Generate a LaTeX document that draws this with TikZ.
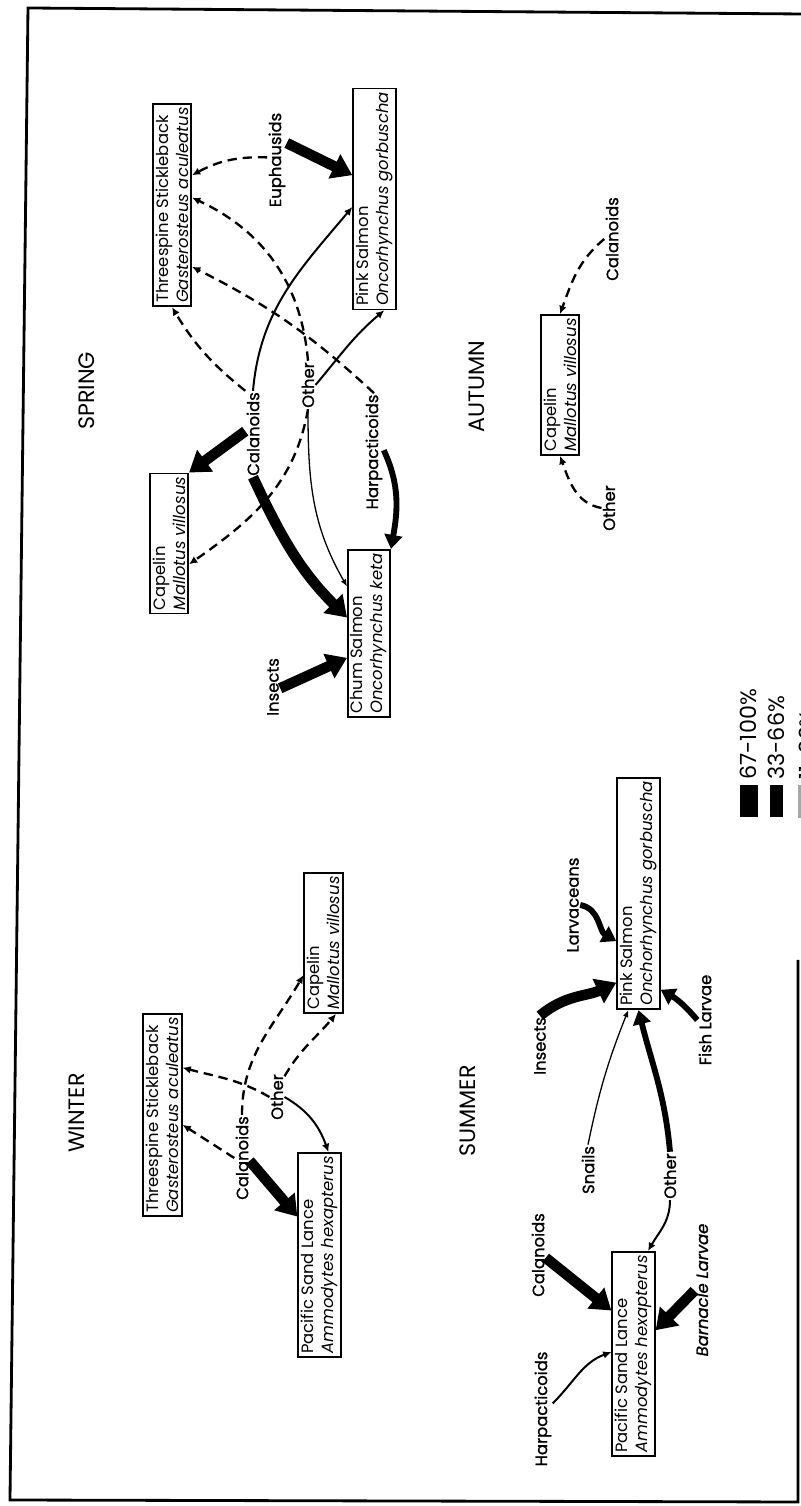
\documentclass[tikz,border=0pt]{standalone}
\usepackage{fontspec}
\setmainfont{Poppins}
\newfontfamily\labfont[FakeBold=1.2]{Poppins}
\usetikzlibrary{arrows.meta}

\begin{document}
\begin{tikzpicture}[x=3mm,y=3mm,rotate=90,transform shape,
	fish/.style={draw,line width=1.5pt,inner xsep=3pt,inner ysep=2.5pt,align=left,font=\fontsize{14}{17}\selectfont},
	prey/.style={inner sep=1pt,font=\labfont\fontsize{14}{16}\selectfont},
	season/.style={font=\fontsize{19}{22}\selectfont},
	key/.style={anchor=west,inner sep=1pt,font=\fontsize{19}{21}\selectfont},
	dsh/.style={line width=2pt,dash pattern=on 8pt off 5pt,-{Latex[length=7pt,width=6.5pt]}},
	sol/.style={line width=1.7pt,-{Latex[length=7pt,width=6.5pt]}},
	thn/.style={line width=1.1pt,-{Latex[length=6pt,width=5pt]}},
	med/.style={line width=5pt,-{Triangle[length=12pt,width=15pt]}},
	big/.style={line width=9pt,-{Triangle[length=17pt,width=22pt]}}]
	
	\useasboundingbox (0,0) rectangle (150.6,80.1);
	\draw[line width=2.4pt] (149.2,0) -- (149.8,77.3) -- (0.6,79.1) -- (0.4,0.3) -- (54.6,0.3);
	
	% spring
	\node[season] (spr) at (111.5,71.4) {SPRING};
	\node[fish] (sTS) at (130.1,62.9) {Threespine Stickleback\\\textit{Gasterosteus aculeatus}};
	\node[fish] (sPS) at (130.7,42.65) {Pink Salmon\\\textit{Oncorhynchus gorbuscha}};
	\node[fish] (sCap) at (96.25,63.2) {Capelin\\\textit{Mallotus villosus}};
	\node[fish] (sChum) at (87.25,43.2) {Chum Salmon\\\textit{Oncorhynchus keta}};
	\node[prey] (sEup) at (134.6,52.4) {Euphausids};
	\node[prey] (sCal) at (107.2,54.8) {Calanoids};
	\node[prey] (sOth) at (112.1,49.3) {Other};
	\node[prey] (sHar) at (105.4,42.7) {Harpacticoids};
	\node[prey] (sIns) at (81.9,52.8) {Insects};
	
	\draw[big] (sEup.-30) -- (sPS.43);
	\draw[dsh] (sEup.75) to[bend right=15] (sTS.-34);
	\draw[dsh] (sHar.east) to[bend right=8] (sTS.198);
	\draw[dsh] (sOth.east) to[out=5,in=-115] (sTS.-70);
	\draw[dsh] (sOth.west) to[out=170,in=-55] (sCap.224);
	\draw[dsh] (sCal.north east) to[bend left=10] (sTS.west);
	\draw[sol] (sCal.east) to[out=-5,in=140] (sPS.110);
	\draw[sol] (sOth.south) to[out=-40,in=130] (sPS.185);
	\draw[thn] (sOth.west) to[out=180,in=30] (sChum.25);
	\draw[big] (sCal.west) to[out=205,in=45] (sChum.54);
	\draw[med] (sHar.-80) to[out=205,in=-10] (sChum.south east);
	\draw[big] (sIns.-100) -- (sChum.138);
	\draw[big] (sCal.70) -- (sCap.south east);
	
	% autumn
	\node[season] (aut) at (111.9,32.4) {AUTUMN};
	\node[fish] (aCap) at (112.1,24.1) {Capelin\\\textit{Mallotus villosus}};
	\node[prey] (aCal) at (126.7,18.9) {Calanoids};
	\node[prey] (aOth) at (99.8,19.2) {Other};
	\draw[dsh] (aCal.north) to[out=130,in=-20] (aCap.east);
	\draw[dsh] (aOth.north) to[out=80,in=200] (aCap.west);
	
	% winter
	\node[season] (win) at (39.3,72.4) {WINTER};
	\node[fish] (wTS) at (39.1,63.85) {Threespine Stickleback\\\textit{Gasterosteus aculeatus}};
	\node[fish] (wSL) at (25.1,48.15) {Pacific Sand Lance\\\textit{Ammodytes hexapterus}};
	\node[fish] (wCap) at (56.3,47.75) {Capelin\\\textit{Mallotus villosus}};
	\node[prey] (wCal) at (34.8,55.9) {Calanoids};
	\node[prey] (wOth) at (40.9,52.4) {Other};
	\draw[dsh] (wCal.north) -- (wTS.-116);
	\draw[dsh] (wCal.east) to[out=0,in=150] (wCap.148);
	\draw[dsh] (wOth.north) to[out=60,in=-105] (wTS.-23);
	\draw[dsh] (wOth.-20) to[out=-30,in=140] (wCap.190);
	\draw[sol] (wOth.south) to[out=-120,in=20] (wSL.-5);
	\draw[big] (wCal.-110) -- (wSL.30);
	
	% summer
	\node[season] (sum) at (39.5,33.3) {SUMMER};
	\node[fish] (uPS) at (61.25,16.25) {Pink Salmon\\\textit{Onchorhynchus gorbuscha}};
	\node[fish] (uSL) at (15.2,16.75) {Pacific Sand Lance\\\textit{Ammodytes hexapterus}};
	\node[prey] (uLar) at (60.1,22.8) {Larvaceans};
	\node[prey] (uIns) at (46.0,26.1) {Insects};
	\node[prey] (uFish) at (48.6,9.6) {Fish Larvae};
	\node[prey] (uSna) at (33.6,21.3) {Snails};
	\node[prey] (uOth) at (33.0,13.1) {Other};
	\node[prey] (uCal) at (25.1,26.3) {Calanoids};
	\node[prey] (uBar) at (21.6,9.9) {\itshape Barnacle Larvae};
	\node[prey] (uHar) at (9.7,25.8) {Harpacticoids};
	\draw[med] (uLar.south) to[out=-100,in=60] (uPS.155);
	\draw[big] (uIns.east) to[out=-50,in=115] (uPS.166);
	\draw[med] (uFish.north) to[bend right=10] (uPS.193);
	\draw[thn] (uSna.east) to[bend left=5] (uPS.175);
	\draw[med] (uOth.east) to[out=5,in=194] (uPS.west);
	\draw[sol] (uOth.west) to[out=180,in=-30] (uSL.-8);
	\draw[big] (uCal.-110) -- (uSL.27);
	\draw[big] (uBar.95) -- (uSL.-43);
	\draw[sol] (uHar.-60) to[out=-45,in=110] (uSL.85);
	
	% key
	\fill (68.9,4.3) rectangle (72.1,6.1);
	\node[key] (k1) at (72.5,5.3) {67-100\%};
	\fill (68.9,1.8) rectangle (72.1,3.1);
	\node[key] (k2) at (72.5,2.45) {33-66\%};
	\filldraw[gray!70] (68.9,-0.5) rectangle (72.1,0.3);
	\node[key] (k3) at (72.5,-0.6) {11-32\%};
\end{tikzpicture}
\end{document}
